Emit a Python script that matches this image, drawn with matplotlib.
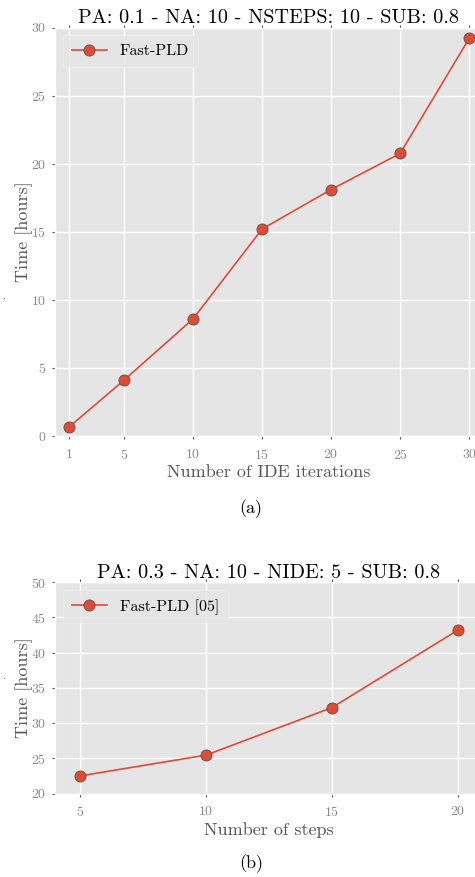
import matplotlib
matplotlib.use("Agg")
import matplotlib.pyplot as plt

plt.style.use("ggplot")
plt.rcParams["font.family"] = ["cmr10", "DejaVu Serif"]
plt.rcParams["axes.formatter.use_mathtext"] = True
plt.rcParams["mathtext.fontset"] = "cm"

# Data (a)
iters = [1, 5, 10, 15, 20, 25, 30]
time_a = [0.64, 4.1, 8.6, 15.2, 18.1, 20.75, 29.2]
title_a = "PA: 0.1 - NA: 10 - NSTEPS: 10 - SUB: 0.8"
label_a = "Fast-PLD"
xlabel_a = "Number of IDE iterations"

# Data (b)
steps = [5, 10, 15, 20]
time_b = [22.5, 25.45, 32.2, 43.2]
title_b = "PA: 0.3 - NA: 10 - NIDE: 5 - SUB: 0.8"
label_b = "Fast-PLD [05]"
xlabel_b = "Number of steps"

ylabel = "Time [hours]"
W, H = 475, 877
fig = plt.figure(figsize=(W / 100, H / 100), dpi=100)

def px_axes(l, r, t, b):
    return fig.add_axes([l / W, 1 - b / H, (r - l) / W, (b - t) / H])

ax1 = px_axes(55, 483, 27.5, 436)
ax2 = px_axes(55, 483, 582.3, 793.5)

color = "#E24A33"
for ax, x, y, lab, title, xl, xlim, ylim, yt in [
    (ax1, iters, time_a, label_a, title_a, xlabel_a, (0, 31), (0, 30), range(0, 31, 5)),
    (ax2, steps, time_b, label_b, title_b, xlabel_b, (4, 21), (20, 50), range(20, 51, 5)),
]:
    ax.plot(x, y, "-o", color=color, lw=1.2, ms=8, mec="#555555", mew=0.6,
            label=lab)
    ax.set_xlim(*xlim)
    ax.set_ylim(*ylim)
    ax.set_xticks(x)
    ax.set_yticks(list(yt))
    ax.set_facecolor("#E5E5E5")
    ax.grid(True, color="white", lw=1.0)
    ax.tick_params(axis="both", labelsize=10, colors="#555555", labelcolor="#888888",
                   direction="out", length=2.5, width=0.8)
    ax.tick_params(axis="x", top=True, pad=6)
    ax.set_title(title, fontsize=14.5, color="black", pad=3)
    ax.set_xlabel(xl, fontsize=13, color="#555555", labelpad=2)
    leg = ax.legend(loc="upper left", fontsize=11.5, frameon=True, borderpad=0.55,
                    handlelength=2.2, facecolor="#E5E5E5", edgecolor="#F0F0F0")
    for t in leg.get_texts():
        t.set_color("black")

fig.text(24 / W, 1 - 232 / H, ylabel, rotation=90, fontsize=13, color="#555555",
         ha="center", va="center")
fig.text(24 / W, 1 - 688 / H, ylabel, rotation=90, fontsize=13, color="#555555",
         ha="center", va="center")
fig.text(4 / W, 1 - 297 / H, ".", fontsize=7, color="#555555", ha="center", va="center")
fig.text(4 / W, 1 - 677 / H, ".", fontsize=7, color="#555555", ha="center", va="center")

fig.text(251 / W, 1 - 509 / H, "(a)", fontsize=13,
         ha="center", va="center", color="black")
fig.text(251 / W, 1 - 864 / H, "(b)", fontsize=13,
         ha="center", va="center", color="black")

fig.savefig("out.png", dpi=100)
